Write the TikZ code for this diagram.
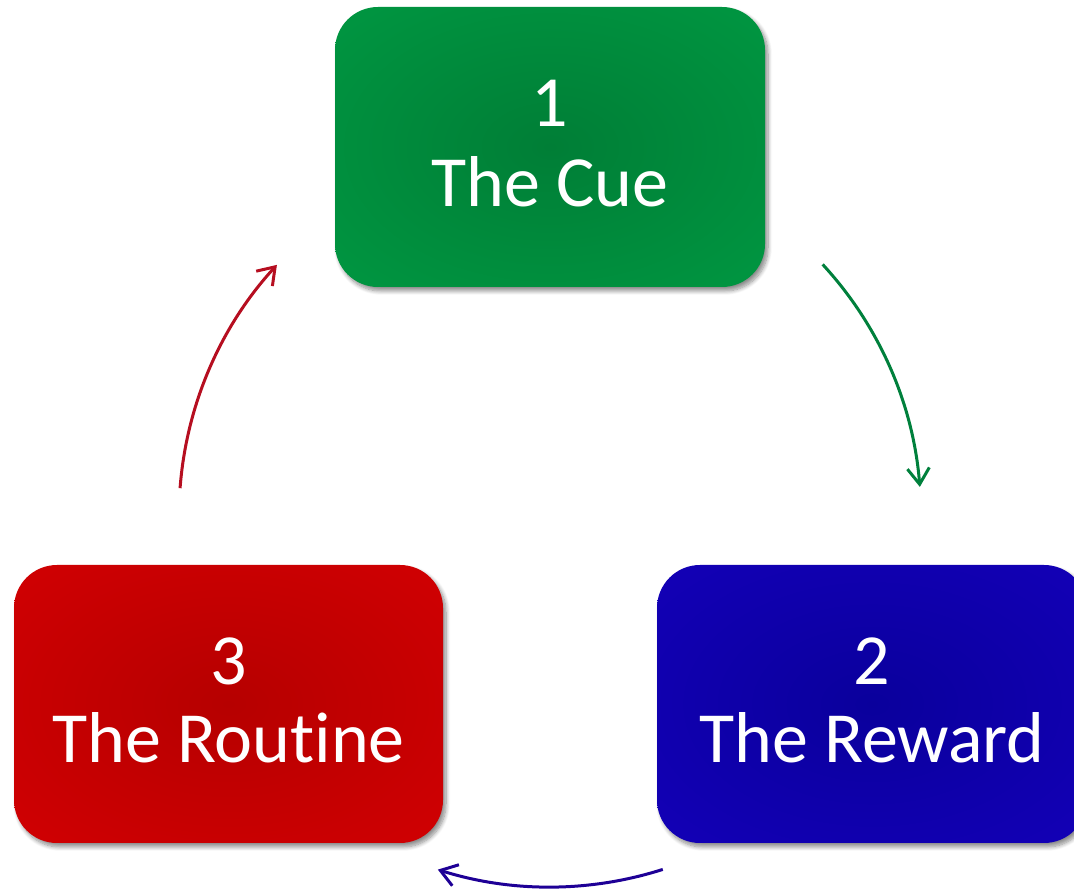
\documentclass[tikz,border=0pt]{standalone}
\usepackage{fontspec}
\setmainfont[Ligatures={NoCommon,NoRare,NoContextual}]{Carlito}
\usetikzlibrary{arrows.meta,shadows.blur}
\definecolor{gC}{RGB}{0,126,54}
\definecolor{gE}{RGB}{0,148,64}
\definecolor{gK}{RGB}{0,138,58}
\definecolor{rC}{RGB}{182,0,0}
\definecolor{rE}{RGB}{206,0,2}
\definecolor{rK}{RGB}{186,10,26}
\definecolor{bC}{RGB}{10,0,156}
\definecolor{bE}{RGB}{18,0,180}
\definecolor{bK}{RGB}{28,10,162}
\definecolor{gA}{RGB}{0,128,60}
\definecolor{rA}{RGB}{182,14,32}
\definecolor{bA}{RGB}{30,0,150}
\pgfdeclareradialshading{greenshade}{\pgfpoint{0bp}{0bp}}{color(0bp)=(gC); color(32bp)=(gE); color(55bp)=(gE); color(71bp)=(gK); color(100bp)=(gK)}
\pgfdeclareradialshading{redshade}{\pgfpoint{0bp}{0bp}}{color(0bp)=(rC); color(32bp)=(rE); color(55bp)=(rE); color(71bp)=(rK); color(100bp)=(rK)}
\pgfdeclareradialshading{blueshade}{\pgfpoint{0bp}{0bp}}{color(0bp)=(bC); color(32bp)=(bE); color(55bp)=(bE); color(71bp)=(bK); color(100bp)=(bK)}
\begin{document}
\begin{tikzpicture}[x=1pt,y=1pt,
  card/.style={rounded corners=43pt, minimum width=430pt, minimum height=280pt, inner sep=0pt,
    blur shadow={shadow xshift=3pt, shadow yshift=-4pt, shadow blur steps=8, shadow opacity=45, shadow blur radius=4pt}},
  lbl/.style={text=white, font=\fontsize{72}{80}\selectfont, inner sep=0pt, anchor=base},
  cyc/.style={line width=3pt, -{Straight Barb[length=16pt,width=22pt,line width=3pt]}}]
\useasboundingbox (0,0) rectangle (1074,889);
\node[card, shading=greenshade] (cue) at (550,742) {};
\node[card, shading=redshade, minimum width=429pt, minimum height=278pt] (routine) at (228.5,185) {};
\node[card, shading=blueshade, minimum height=278pt] (reward) at (872,185) {};
\node[lbl] (cueN) at ([yshift=20pt]cue.center) {1};
\node[lbl] (cueT) at ([yshift=-60pt]cue.center) {The Cue};
\node[lbl] (rewN) at ([yshift=19pt]reward.center) {2};
\node[lbl] (rewT) at ([yshift=-59pt]reward.center) {The Reward};
\node[lbl] (rouN) at ([yshift=19pt]routine.center) {3};
\node[lbl] (rouT) at ([yshift=-59pt]routine.center) {The Routine};
\coordinate (o) at (550,373);
\coordinate (gs) at ([shift={(42.7:371)}]o);
\coordinate (bs) at ([shift={(-72.3:371)}]o);
\coordinate (rs) at ([shift={(175.7:371)}]o);
\draw[cyc, gA] (gs) arc[start angle=42.7, end angle=4.5, radius=371];
\draw[cyc, bA] (bs) arc[start angle=-72.3, end angle=-107.6, radius=371];
\draw[cyc, rA] (rs) arc[start angle=175.7, end angle=137.4, radius=371];
\end{tikzpicture}
\end{document}
